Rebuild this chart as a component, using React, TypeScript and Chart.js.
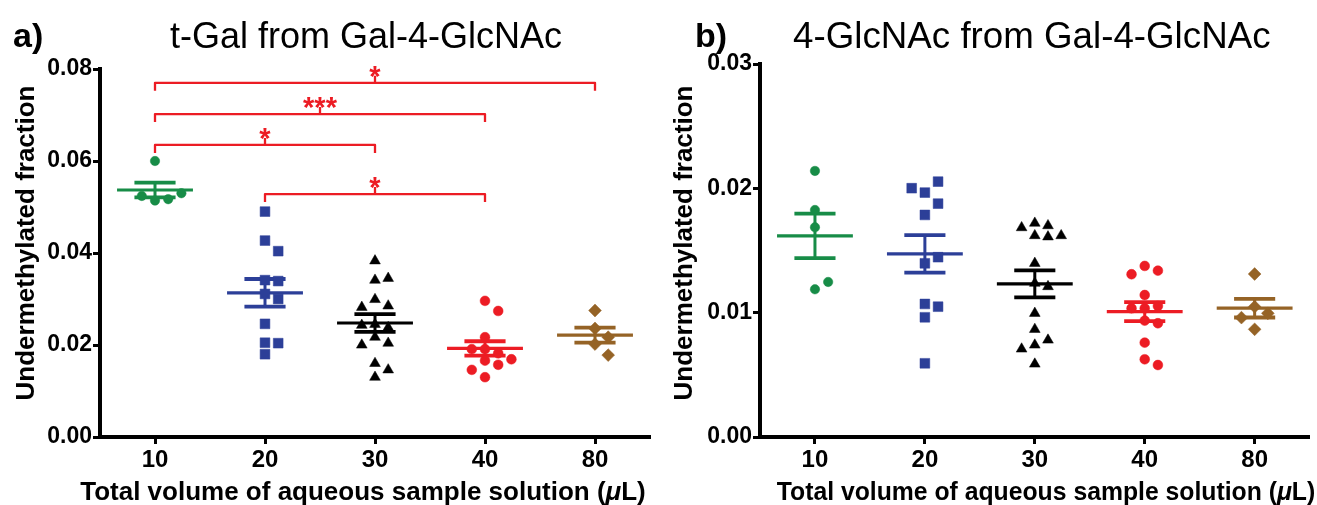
import React, { useEffect, useRef } from "react";
import { Chart, registerables } from "chart.js";

Chart.register(...registerables);

// ---------- data ----------
const volumes = ["10", "20", "30", "40", "80"];

// Panel a: t-Gal from Gal-4-GlcNAc (undermethylated fraction)
const tGal_10 = [0.06, 0.0514, 0.0517, 0.0524, 0.053];
const tGal_20 = [0.049, 0.0427, 0.0404, 0.0341, 0.0339, 0.0311, 0.03, 0.0246, 0.0205, 0.0204, 0.018];
const tGal_30 = [0.0383, 0.0341, 0.0345, 0.0299, 0.0285, 0.0282, 0.0245, 0.0238, 0.0243, 0.0217, 0.0204, 0.02, 0.016, 0.013, 0.0146];
const tGal_40 = [0.0296, 0.0274, 0.0217, 0.0191, 0.0182, 0.0191, 0.0169, 0.0166, 0.0157, 0.0146, 0.013];
const tGal_80 = [0.0275, 0.0236, 0.0217, 0.0202, 0.0178];
const tGalTicks = [0, 0.02, 0.04, 0.06, 0.08];

// significance brackets in panel a
const bracketFrom = [0, 0, 0, 1];
const bracketTo = [4, 3, 2, 3];
const bracketLevel = [0.077, 0.0702, 0.0635, 0.0528];
const bracketLabel = ["*", "***", "*", "*"];

// Panel b: 4-GlcNAc from Gal-4-GlcNAc
const glc_10 = [0.0214, 0.01826, 0.01687, 0.01188, 0.01247];
const glc_20 = [0.01966, 0.02054, 0.02001, 0.01877, 0.01786, 0.01397, 0.01446, 0.0107, 0.01048, 0.00963, 0.00593];
const glc_30 = [0.0172, 0.017, 0.01684, 0.0162, 0.0161, 0.0162, 0.01397, 0.01237, 0.0121, 0.00995, 0.00866, 0.0078, 0.0074, 0.00708, 0.00587];
const glc_40 = [0.01376, 0.01338, 0.01309, 0.01142, 0.01054, 0.01035, 0.01035, 0.00936, 0.00915, 0.00759, 0.00625, 0.00579];
const glc_80 = [0.01311, 0.01048, 0.00995, 0.0096, 0.00866];
const glcTicks = [0, 0.01, 0.02, 0.03];

// ---------- styles ----------
const FONT = '"Liberation Sans", Arial, Helvetica, sans-serif';
const COLORS = ["#178c47", "#2c3f98", "#000000", "#ec1c24", "#956326"];
const STYLES = ["circle", "rect", "triangle", "circle", "rectRot"];
const RADII = [4.7, 6.9, 6.2, 4.9, 6.4];
const RED = "#ec1c24";

function swarm(values: number[], center: number, h: number) {
  const d = 0.12;
  const placed: { k: number; v: number }[] = [];
  const order = [0, 1, -1, 2, -2, 3, -3, 4, -4];
  return values.map((v) => {
    for (const k of order) {
      if (!placed.some((p) => p.k === k && Math.abs(p.v - v) < h)) {
        placed.push({ k, v });
        return { x: center + k * d, y: v };
      }
    }
    return { x: center, y: v };
  });
}

function stats(vals: number[]) {
  const n = vals.length;
  const mean = vals.reduce((a, b) => a + b, 0) / n;
  const sd = Math.sqrt(vals.reduce((a, b) => a + (b - mean) * (b - mean), 0) / (n - 1));
  return { mean, sem: sd / Math.sqrt(n) };
}

type Part = { text: string; font: string };

function drawParts(ctx: CanvasRenderingContext2D, parts: Part[], cx: number, cy: number, sx: number, rotate: boolean, baseline: CanvasTextBaseline) {
  ctx.save();
  let total = 0;
  const widths = parts.map((p) => {
    ctx.font = p.font;
    const w = ctx.measureText(p.text).width;
    total += w;
    return w;
  });
  ctx.translate(cx, cy);
  if (rotate) ctx.rotate(-Math.PI / 2);
  ctx.scale(sx, 1);
  ctx.textAlign = "left";
  ctx.textBaseline = baseline;
  ctx.fillStyle = "#000";
  let x = -total / 2;
  parts.forEach((p, i) => {
    ctx.font = p.font;
    ctx.fillText(p.text, x, 0);
    x += widths[i];
  });
  ctx.restore();
}

type Panel = {
  groups: number[][];
  ticks: number[];
  yMax: number;
  W: number;
  H: number;
  left: number;
  right: number;
  top: number;
  bottom: number;
  letter: string;
  letterX: number;
  title: string;
  titleSx: number;
  titleDx: number;
  yTitleX: number;
  xTitleCx: number;
  xTitleSx: number;
  brackets: boolean;
};

function makeChart(canvas: HTMLCanvasElement, p: Panel) {
  const datasets = p.groups.map((vals, i) => ({
    type: "scatter" as const,
    data: swarm(vals, i, p.yMax * 0.03),
    pointStyle: STYLES[i],
    pointRadius: RADII[i],
    pointHoverRadius: RADII[i],
    backgroundColor: COLORS[i],
    borderColor: COLORS[i],
    pointBorderWidth: 0.5,
    showLine: false,
  }));

  const meanSem = {
    id: "meanSem",
    beforeDatasetsDraw(chart: any) {
      const { ctx, scales } = chart;
      const x = scales.x;
      const y = scales.y;
      p.groups.forEach((vals, i) => {
        const { mean, sem } = stats(vals);
        ctx.save();
        ctx.strokeStyle = COLORS[i];
        ctx.lineCap = "butt";
        ctx.lineWidth = 3.2;
        ctx.beginPath();
        ctx.moveTo(x.getPixelForValue(i - 0.345), y.getPixelForValue(mean));
        ctx.lineTo(x.getPixelForValue(i + 0.345), y.getPixelForValue(mean));
        ctx.stroke();
        ctx.lineWidth = 3.8;
        [mean + sem, mean - sem].forEach((v) => {
          ctx.beginPath();
          ctx.moveTo(x.getPixelForValue(i - 0.187), y.getPixelForValue(v));
          ctx.lineTo(x.getPixelForValue(i + 0.187), y.getPixelForValue(v));
          ctx.stroke();
        });
        ctx.lineWidth = 3;
        ctx.beginPath();
        ctx.moveTo(x.getPixelForValue(i), y.getPixelForValue(mean + sem));
        ctx.lineTo(x.getPixelForValue(i), y.getPixelForValue(mean - sem));
        ctx.stroke();
        ctx.restore();
      });
    },
  };

  const bracketPlugin = {
    id: "brackets",
    afterDatasetsDraw(chart: any) {
      if (!p.brackets) return;
      const { ctx, scales } = chart;
      const x = scales.x;
      const y = scales.y;
      bracketFrom.forEach((from, k) => {
        const x1 = x.getPixelForValue(from);
        const x2 = x.getPixelForValue(bracketTo[k]);
        const yy = y.getPixelForValue(bracketLevel[k]);
        const xm = (x1 + x2) / 2;
        ctx.save();
        ctx.strokeStyle = RED;
        ctx.lineWidth = 2.3;
        ctx.lineJoin = "round";
        ctx.beginPath();
        ctx.moveTo(x1, yy + 8);
        ctx.lineTo(x1, yy);
        ctx.lineTo(x2, yy);
        ctx.lineTo(x2, yy + 8);
        ctx.moveTo(xm, yy);
        ctx.lineTo(xm, yy - 7);
        ctx.stroke();
        ctx.fillStyle = RED;
        ctx.font = `bold 29px ${FONT}`;
        ctx.textAlign = "center";
        ctx.textBaseline = "alphabetic";
        ctx.fillText(bracketLabel[k], xm, yy + 3);
        ctx.restore();
      });
    },
  };

  const textPlugin = {
    id: "texts",
    afterDraw(chart: any) {
      const { ctx, chartArea } = chart;
      // panel letter
      ctx.save();
      ctx.fillStyle = "#000";
      ctx.font = `bold 34px ${FONT}`;
      ctx.textAlign = "left";
      ctx.textBaseline = "alphabetic";
      ctx.fillText(p.letter, p.letterX, 47);
      ctx.restore();
      // title
      const cx = (chartArea.left + chartArea.right) / 2 + p.titleDx;
      drawParts(ctx, [{ text: p.title, font: `36px ${FONT}` }], cx, 48, p.titleSx, false, "alphabetic");
      // y title
      drawParts(ctx, [{ text: "Undermethylated fraction", font: `bold 25px ${FONT}` }], p.yTitleX, 243, 1.04, true, "middle");
      // x title with italic mu
      drawParts(
        ctx,
        [
          { text: "Total volume of aqueous sample solution (", font: `bold 25px ${FONT}` },
          { text: "\u03bc", font: `italic bold 25px ${FONT}` },
          { text: "L)", font: `bold 25px ${FONT}` },
        ],
        p.xTitleCx,
        500,
        p.xTitleSx,
        false,
        "alphabetic"
      );
    },
  };

  return new Chart(canvas, {
    type: "scatter",
    data: { datasets },
    plugins: [meanSem, bracketPlugin, textPlugin],
    options: {
      animation: false,
      responsive: false,
      devicePixelRatio: 1,
      events: [],
      layout: { padding: { left: 0, right: p.W - p.right, top: p.top, bottom: 0 } },
      plugins: {
        legend: { display: false },
        tooltip: { enabled: false },
        title: { display: false },
      },
      scales: {
        x: {
          type: "linear",
          min: -0.5,
          max: 4.5,
          afterBuildTicks: (s: any) => {
            s.ticks = volumes.map((_, i) => ({ value: i }));
          },
          afterFit: (s: any) => {
            s.height = p.H - p.bottom;
          },
          ticks: {
            callback: (v: any) => volumes[Math.round(Number(v))],
            font: { family: FONT, size: 24, weight: "bold" },
            color: "#000",
            padding: 2,
            maxRotation: 0,
            autoSkip: false,
          },
          grid: {
            display: true,
            drawOnChartArea: false,
            drawTicks: true,
            tickLength: 7,
            tickWidth: 3,
            tickColor: "#000",
          },
          border: { display: true, width: 4, color: "#000" },
        },
        y: {
          type: "linear",
          min: 0,
          max: p.yMax,
          afterBuildTicks: (s: any) => {
            s.ticks = p.ticks.map((v) => ({ value: v }));
          },
          afterFit: (s: any) => {
            s.width = p.left;
          },
          ticks: {
            callback: (v: any) => Number(v).toFixed(2),
            font: { family: FONT, size: 23, weight: "bold" },
            color: "#000",
            padding: 1,
            autoSkip: false,
          },
          grid: {
            display: true,
            drawOnChartArea: false,
            drawTicks: true,
            tickLength: 7,
            tickWidth: 3,
            tickColor: "#000",
          },
          border: { display: true, width: 4, color: "#000" },
        },
      },
    } as any,
  });
}

const panelA: Panel = {
  groups: [tGal_10, tGal_20, tGal_30, tGal_40, tGal_80],
  ticks: tGalTicks,
  yMax: 0.08,
  W: 658,
  H: 505,
  left: 100,
  right: 650,
  top: 69,
  bottom: 437,
  letter: "a)",
  letterX: 13,
  title: "t-Gal from Gal-4-GlcNAc",
  titleSx: 1.0,
  titleDx: -9,
  yTitleX: 27,
  xTitleCx: 363,
  xTitleSx: 1.04,
  brackets: true,
};

const panelB: Panel = {
  groups: [glc_10, glc_20, glc_30, glc_40, glc_80],
  ticks: glcTicks,
  yMax: 0.03,
  W: 659,
  H: 505,
  left: 102,
  right: 659,
  top: 64,
  bottom: 437,
  letter: "b)",
  letterX: 37,
  title: "4-GlcNAc from Gal-4-GlcNAc",
  titleSx: 1.02,
  titleDx: -3,
  yTitleX: 27,
  xTitleCx: 388,
  xTitleSx: 0.99,
  brackets: false,
};

export default function App() {
  const aRef = useRef<HTMLCanvasElement>(null);
  const bRef = useRef<HTMLCanvasElement>(null);
  useEffect(() => {
    const ca = makeChart(aRef.current!, panelA);
    const cb = makeChart(bRef.current!, panelB);
    return () => {
      ca.destroy();
      cb.destroy();
    };
  }, []);
  return (
    <div style={{ position: "absolute", left: 0, top: 0, width: 1317, height: 505, background: "#fff" }}>
      <canvas ref={aRef} width={658} height={505} style={{ position: "absolute", left: 0, top: 0, width: 658, height: 505 }} />
      <canvas ref={bRef} width={659} height={505} style={{ position: "absolute", left: 658, top: 0, width: 659, height: 505 }} />
    </div>
  );
}
